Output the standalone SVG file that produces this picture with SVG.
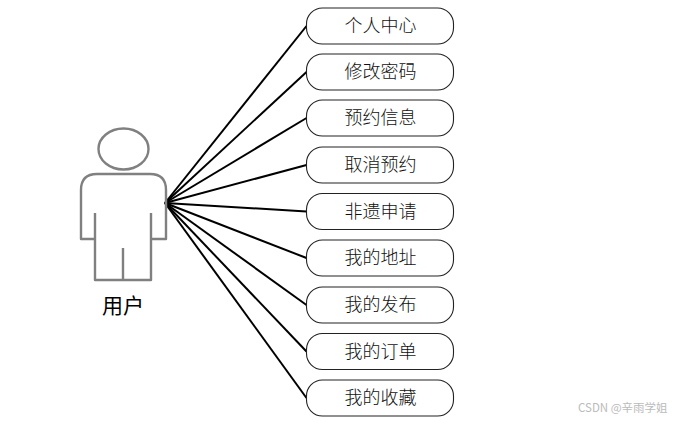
<svg xmlns="http://www.w3.org/2000/svg" width="682" height="421" viewBox="0 0 682 421">
<style>
.box{fill:#fff;stroke:#222;stroke-width:1.1}
.t{font-family:"Noto Sans CJK SC","Noto Serif CJK SC",sans-serif;font-size:18px;fill:#111;text-anchor:middle;font-weight:300}
.c{stroke:#000;stroke-width:2;fill:none}
.a{stroke:#808080;stroke-width:2.4;fill:none;stroke-linejoin:round}
</style>
<rect width="682" height="421" fill="#fff"/>
<g id="connectors">
<path class="c" d="M165 203L306.500 26"/>
<path class="c" d="M165 203L306.500 72"/>
<path class="c" d="M165 203L306.500 118"/>
<path class="c" d="M165 203L306.500 165"/>
<path class="c" d="M165 203L306.500 211.500"/>
<path class="c" d="M165 203L306.500 258"/>
<path class="c" d="M165 203L306.500 305"/>
<path class="c" d="M165 203L306.500 351.500"/>
<path class="c" d="M165 203L306.500 398"/>
</g>
<g id="actor">
<ellipse class="a" cx="123.500" cy="149" rx="25" ry="20.500"/>
<path class="a" d="M95 213V239H81V190Q81 174 97 174H150Q166 174 166 190V239H151V213M95 239V280H151V239M123 248V280"/>
<text x="123" y="313" style="font-family:'Noto Sans CJK SC',sans-serif;font-size:21px;fill:#000;text-anchor:middle">用户</text>
</g>
<g id="n1"><rect class="box" x="306.500" y="8" width="147" height="36" rx="16"/><text class="t" x="380.500" y="32">个人中心</text></g>
<g id="n2"><rect class="box" x="306.500" y="54" width="147" height="36" rx="16"/><text class="t" x="380.500" y="78">修改密码</text></g>
<g id="n3"><rect class="box" x="306.500" y="100" width="147" height="36" rx="16"/><text class="t" x="380.500" y="124">预约信息</text></g>
<g id="n4"><rect class="box" x="306.500" y="147" width="147" height="36" rx="16"/><text class="t" x="380.500" y="171">取消预约</text></g>
<g id="n5"><rect class="box" x="306.500" y="193.500" width="147" height="36" rx="16"/><text class="t" x="380.500" y="217.500">非遗申请</text></g>
<g id="n6"><rect class="box" x="306.500" y="240" width="147" height="36" rx="16"/><text class="t" x="380.500" y="264">我的地址</text></g>
<g id="n7"><rect class="box" x="306.500" y="287" width="147" height="36" rx="16"/><text class="t" x="380.500" y="311">我的发布</text></g>
<g id="n8"><rect class="box" x="306.500" y="333.500" width="147" height="36" rx="16"/><text class="t" x="380.500" y="357.500">我的订单</text></g>
<g id="n9"><rect class="box" x="306.500" y="380" width="147" height="36" rx="16"/><text class="t" x="380.500" y="404">我的收藏</text></g>
<text x="578" y="412" style="font-family:'Noto Sans CJK SC',sans-serif;font-size:11.500px;fill:#bbb">CSDN @辛雨学姐</text>
</svg>
